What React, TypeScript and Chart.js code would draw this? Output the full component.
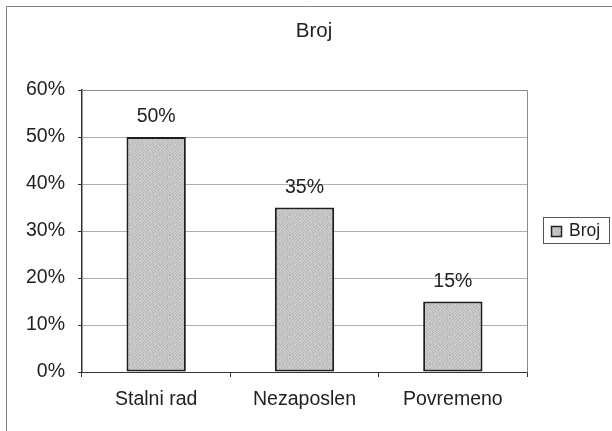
import React, { useEffect, useRef } from "react";
import { Chart, registerables } from "chart.js";

Chart.register(...registerables);

const categories = ["Stalni rad", "Nezaposlen", "Povremeno"];
const values = [0.5, 0.35, 0.15];
const seriesName = "Broj";
const chartTitle = "Broj";
const yMax = 0.6;
const yStep = 0.1;

const FONT = "'Liberation Sans', Arial, sans-serif";

// fixed stipple texture (not data)
const STIPPLE = [
  "abcabacbca",
  "cabacbcaba",
  "bacbcabcab",
  "acbcabacbc",
  "cbabcacbab",
  "babcacbacb",
  "cacbabcbac",
  "abacbcabca",
  "bcabacbcab",
  "acbcababcb",
];
const TONES: Record<string, string> = { a: "#d2d2d2", b: "#b6b6b6", c: "#c6c6c6" };

function makePattern(ctx: CanvasRenderingContext2D): CanvasPattern | string {
  const c = document.createElement("canvas");
  c.width = 10;
  c.height = 10;
  const p = c.getContext("2d");
  if (!p) return "#c4c4c4";
  STIPPLE.forEach((row, y) => {
    for (let x = 0; x < row.length; x++) {
      p.fillStyle = TONES[row[x]];
      p.fillRect(x, y, 1, 1);
    }
  });
  return ctx.createPattern(c, "repeat") || "#c4c4c4";
}

export default function App() {
  const ref = useRef<HTMLCanvasElement | null>(null);

  useEffect(() => {
    document.body.style.margin = "0";
    const canvas = ref.current;
    if (!canvas) return;
    const ctx = canvas.getContext("2d");
    if (!ctx) return;
    const pattern = makePattern(ctx);

    const decor = {
      id: "decor",
      beforeDraw(chart: any) {
        const c = chart.ctx;
        c.save();
        c.fillStyle = "#ffffff";
        c.fillRect(0, 0, chart.width, chart.height);
        c.strokeStyle = "#808080";
        c.lineWidth = 1;
        c.beginPath();
        c.moveTo(6.5, chart.height);
        c.lineTo(6.5, 6.5);
        c.lineTo(chart.width, 6.5);
        c.stroke();
        c.fillStyle = "#222222";
        c.font = "20.5px " + FONT;
        c.textAlign = "center";
        c.textBaseline = "middle";
        c.fillText(chartTitle, 314, 31);
        c.restore();
      },
      afterDatasetsDraw(chart: any) {
        const c = chart.ctx;
        const a = chart.chartArea;
        c.save();
        c.strokeStyle = "#8a8a8a";
        c.lineWidth = 1;
        c.beginPath();
        c.moveTo(Math.round(a.left) + 0.5, Math.round(a.top) + 0.5);
        c.lineTo(Math.round(a.right) + 0.5, Math.round(a.top) + 0.5);
        c.lineTo(Math.round(a.right) + 0.5, Math.round(a.bottom) + 0.5);
        c.stroke();
        const meta = chart.getDatasetMeta(0);
        c.fillStyle = "#222222";
        c.font = "19.5px " + FONT;
        c.textAlign = "center";
        c.textBaseline = "middle";
        meta.data.forEach((bar: any, i: number) => {
          c.fillText(Math.round(values[i] * 100) + "%", bar.x, bar.y - 20);
        });
        // legend
        c.strokeStyle = "#555555";
        c.lineWidth = 1;
        c.strokeRect(543.5, 217.5, 66, 26);
        c.fillStyle = pattern;
        c.fillRect(551, 226, 11, 11);
        c.strokeStyle = "#222222";
        c.lineWidth = 1.5;
        c.strokeRect(551.5, 226.5, 10, 10);
        c.fillStyle = "#222222";
        c.font = "17.5px " + FONT;
        c.textAlign = "left";
        c.fillText(seriesName, 569, 231);
        c.restore();
      },
    };

    const chart = new Chart(ctx, {
      type: "bar",
      data: {
        labels: categories,
        datasets: [
          {
            label: seriesName,
            data: values,
            backgroundColor: pattern as any,
            borderColor: "#1e1e1e",
            borderWidth: 2,
            borderSkipped: false,
            barPercentage: 0.8,
            categoryPercentage: 0.5,
          },
        ],
      },
      options: {
        responsive: false,
        animation: false,
        devicePixelRatio: 1,
        layout: { padding: { left: 0, right: 85, top: 90, bottom: 0 } },
        plugins: {
          legend: { display: false },
          tooltip: { enabled: false },
          title: { display: false },
        },
        scales: {
          x: {
            grid: {
              display: true,
              drawOnChartArea: false,
              drawTicks: true,
              tickLength: 5,
              color: "#333333",
              offset: true,
            },
            border: { display: true, color: "#333333", width: 1 },
            ticks: {
              color: "#222222",
              font: { family: FONT, size: 19.5 },
              padding: 11,
              maxRotation: 0,
            },
            afterFit(scale: any) {
              scale.height = 59;
            },
          },
          y: {
            min: 0,
            max: yMax,
            grid: {
              color: "#b0b0b0",
              borderDash: [3, 3],
              drawTicks: true,
              tickLength: 4,
              tickColor: "#333333",
              tickBorderDash: [],
            } as any,
            border: { display: true, color: "#333333", width: 1.5 },
            ticks: {
              stepSize: yStep,
              color: "#222222",
              font: { family: FONT, size: 19.5 },
              padding: 13,
              callback: (v: any) => Math.round(Number(v) * 100) + "%",
            },
            afterFit(scale: any) {
              scale.width = 82;
            },
          },
        },
      },
      plugins: [decor],
    });

    return () => chart.destroy();
  }, []);

  return (
    <div style={{ position: "absolute", left: 0, top: 0, width: 612, height: 431 }}>
      <canvas ref={ref} width={612} height={431} style={{ display: "block" }} />
    </div>
  );
}
